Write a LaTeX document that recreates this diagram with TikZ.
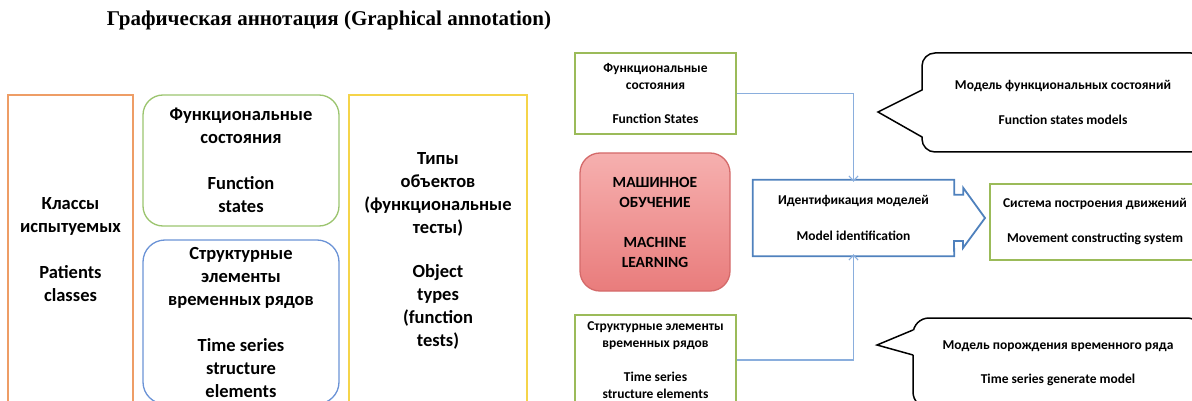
\documentclass[tikz,border=0pt]{standalone}
\usepackage{fontspec}
\setmainfont{Carlito}
\newfontfamily\titlefont{Liberation Serif}
\usetikzlibrary{arrows.meta}

\definecolor{panelorange}{HTML}{EE9D66}
\definecolor{panelgreen}{HTML}{9BC46E}
\definecolor{panelblue}{HTML}{6B93D6}
\definecolor{panelyellow}{HTML}{F5D44A}
\definecolor{boxgreen}{HTML}{9BBB59}
\definecolor{arrowblue}{HTML}{4F81BD}
\definecolor{linkblue}{HTML}{8AAEDD}
\definecolor{mltop}{HTML}{F6B0AF}
\definecolor{mlbottom}{HTML}{E97C7C}
\definecolor{mlborder}{HTML}{D46A6A}

\begin{document}
\begin{tikzpicture}[x=1pt,y=-1pt,
  panel/.style={draw, line width=1.3pt, align=center, inner sep=0pt,
    font=\bfseries\fontsize{18.5}{23}\selectfont},
  smallbox/.style={draw=boxgreen, line width=1.8pt, align=center, inner sep=0pt,
    font=\bfseries\fontsize{13.5}{17}\selectfont},
  bubble/.style={draw=black, line width=1.5pt, rounded corners=13, align=center,
    inner sep=0pt, font=\bfseries\fontsize{13.5}{17}\selectfont},
  link/.style={draw=linkblue, line width=1.4pt,
    -{Straight Barb[length=5pt,width=9pt,line width=1.1pt]}},
  pointer/.style={draw=black, line width=1.5pt, line join=miter}
]
\path[use as bounding box, clip] (0,0) rectangle (1192,401);

% heading
\node (title) at (329,20) {\titlefont\bfseries\fontsize{21}{23}\selectfont
  Графическая аннотация (Graphical annotation)};

% left group of panels
\node[panel, draw=panelorange, minimum width=125, minimum height=310] (classes)
  at (70.5,250) {Классы\\испытуемых\\[23pt]Patients\\classes};
\node[panel, draw=panelgreen, rounded corners=20, minimum width=196, minimum height=131]
  (states) at (241,160.5) {Функциональные\\состояния\\[23pt]Function\\states};
\node[panel, draw=panelblue, rounded corners=22, minimum width=196, minimum height=164]
  (elements) at (241,322) {Структурные\\элементы\\временных рядов\\[23pt]Time series\\structure\\elements};
\node[panel, draw=panelyellow, minimum width=178, minimum height=312] (types)
  at (438,251) {Типы\\объектов\\(функциональные\\тесты)\\[21pt]Object\\types\\(function\\tests)};

% right scheme
\node[smallbox, minimum width=161, minimum height=81] (fs) at (655.5,93.5)
  {Функциональные\\состояния\\[17pt]Function States};
\node[smallbox, minimum width=161, minimum height=90] (sb) at (655.5,360)
  {Структурные элементы\\временных рядов\\[17pt]Time series\\structure elements};
\node[draw=mlborder, line width=1.3pt, rounded corners=20, top color=mltop,
  bottom color=mlbottom, minimum width=150, minimum height=138, align=center,
  inner sep=0pt, font=\bfseries\fontsize{15.5}{20}\selectfont] (ml) at (655,222)
  {МАШИННОЕ\\ОБУЧЕНИЕ\\[20pt]MACHINE\\LEARNING};

\node[minimum width=201, minimum height=76, align=center, inner sep=0pt,
  font=\bfseries\fontsize{13.5}{18}\selectfont] (mi) at (853.5,218)
  {Идентификация моделей\\[18pt]Model identification};
\draw[draw=arrowblue, line width=1.8pt, line join=miter]
  (mi.north west) -- (mi.north east) -- ++(0,15) -- ++(9,0) -- ++(0,-7)
  -- (985,218) -- (963,248) -- ++(0,-7) -- ++(-9,0) -- (mi.south east)
  -- (mi.south west) -- cycle;

\node[smallbox, minimum width=210, minimum height=76] (mcs) at (1095,222)
  {Система построения движений\\[18pt]Movement constructing system};

% speech bubbles
\node[bubble, minimum width=282, minimum height=99] (fsm) at (1063,102.5)
  {Модель функциональных состояний\\[18pt]Function states models};
\fill[white] (923.6,90) -- (878,112) -- (923.6,137) -- cycle;
\draw[pointer] (922,90) -- (878,112) -- (922,137);

\node[bubble, rounded corners=16, minimum width=290, minimum height=90] (tsm)
  at (1058,363) {Модель порождения временного ряда\\[17pt]Time series generate model};
\fill[white] (914.6,330) -- (877,345) -- (914.6,355) -- cycle;
\draw[pointer] (913,330) -- (877,345) -- (913,355);

% connectors
\draw[link] (fs.east) -| ([yshift=-2]mi.north);
\draw[link] (sb.east) -| ([yshift=2]mi.south);
\end{tikzpicture}
\end{document}
